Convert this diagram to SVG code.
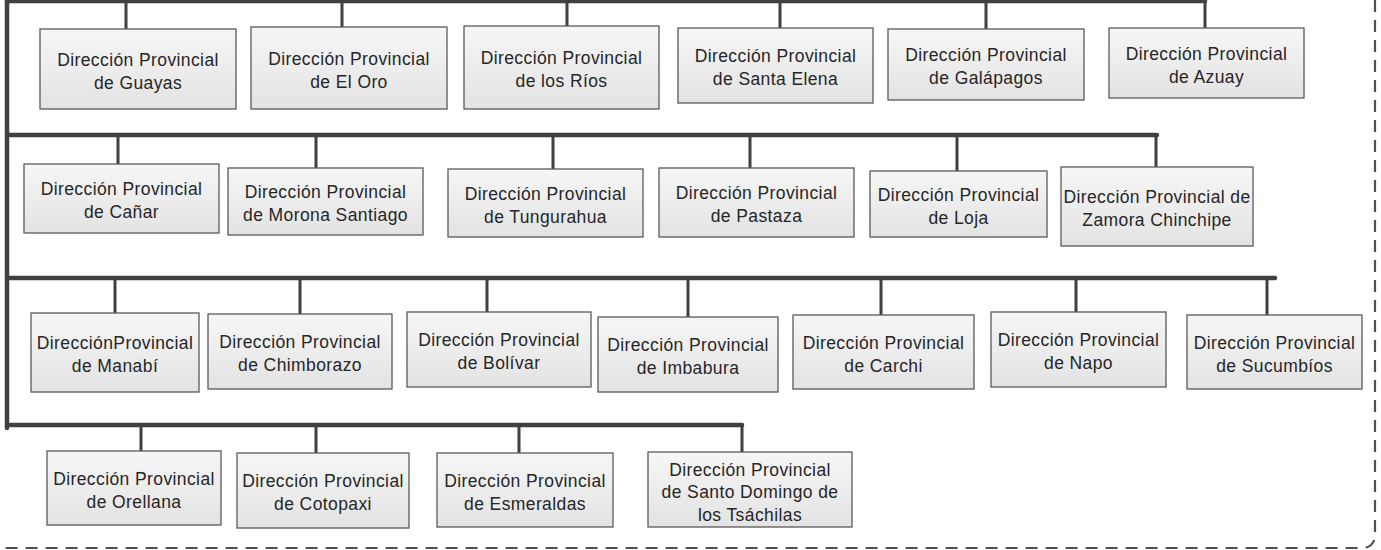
<svg xmlns="http://www.w3.org/2000/svg" width="1381" height="550" viewBox="0 0 1381 550">
<defs>
<linearGradient id="bg" x1="0" y1="0" x2="0" y2="1">
<stop offset="0" stop-color="#f6f6f6"/>
<stop offset="1" stop-color="#e3e3e3"/>
</linearGradient>
</defs>
<style>
.box{fill:url(#bg);stroke:#5a5a5a;stroke-width:1.3}
.t{font-family:"Liberation Sans",Arial,sans-serif;font-size:17.5px;letter-spacing:0.4px;fill:#262626;text-anchor:middle}
.bus{stroke:#404040;stroke-width:4.5;fill:none;stroke-linecap:round}
.stub{stroke:#404040;stroke-width:3;fill:none}
.frame{stroke:#505050;stroke-width:2.2;fill:none;stroke-dasharray:12 8}
</style>
<rect width="1381" height="550" fill="#fff"/>
<path class="frame" d="M1375,0 V534 Q1375,548 1361,548 H0"/>
<g id="connectors">
<path class="bus" d="M7,0 V428"/>
<path class="bus" d="M7,1 H1205"/>
<path class="bus" d="M7,135 H1157"/>
<path class="bus" d="M7,278 H1275"/>
<path class="bus" d="M7,425 H742"/>
<path class="stub" d="M126,0V29 M342,0V27 M567,0V26 M780,0V28 M986,0V29 M1205,0V28"/>
<path class="stub" d="M118,135V164 M316,135V168 M553,135V169 M750,135V168 M957,135V171 M1156,135V167"/>
<path class="stub" d="M115,278V313 M300,278V314 M487,278V312 M688,278V317 M881,278V315 M1076,278V312 M1267,278V315"/>
<path class="stub" d="M141,425V451 M316,425V453 M519,425V453 M742,425V452"/>
</g>
<g id="guayas"><rect class="box" x="40" y="29" width="196" height="80"/><text class="t" x="138" y="65.5">Dirección Provincial<tspan x="138" y="88.5">de Guayas</tspan></text></g>
<g id="eloro"><rect class="box" x="251" y="27" width="196" height="82"/><text class="t" x="349" y="64.5">Dirección Provincial<tspan x="349" y="87.5">de El Oro</tspan></text></g>
<g id="losrios"><rect class="box" x="464" y="26" width="195" height="83"/><text class="t" x="561.5" y="64">Dirección Provincial<tspan x="561.5" y="87">de los Ríos</tspan></text></g>
<g id="santaelena"><rect class="box" x="678" y="28" width="195" height="75"/><text class="t" x="775.5" y="62">Dirección Provincial<tspan x="775.5" y="85">de Santa Elena</tspan></text></g>
<g id="galapagos"><rect class="box" x="888" y="29" width="196" height="71"/><text class="t" x="986" y="61">Dirección Provincial<tspan x="986" y="84">de Galápagos</tspan></text></g>
<g id="azuay"><rect class="box" x="1109" y="28" width="195" height="70"/><text class="t" x="1206.5" y="59.5">Dirección Provincial<tspan x="1206.5" y="82.5">de Azuay</tspan></text></g>
<g id="canar"><rect class="box" x="24" y="164" width="195" height="69"/><text class="t" x="121.5" y="195">Dirección Provincial<tspan x="121.5" y="218">de Cañar</tspan></text></g>
<g id="morona"><rect class="box" x="228" y="168" width="195" height="67"/><text class="t" x="325.5" y="198">Dirección Provincial<tspan x="325.5" y="221">de Morona Santiago</tspan></text></g>
<g id="tungurahua"><rect class="box" x="448" y="169" width="195" height="68"/><text class="t" x="545.5" y="199.5">Dirección Provincial<tspan x="545.5" y="222.5">de Tungurahua</tspan></text></g>
<g id="pastaza"><rect class="box" x="659" y="168" width="195" height="69"/><text class="t" x="756.5" y="199">Dirección Provincial<tspan x="756.5" y="222">de Pastaza</tspan></text></g>
<g id="loja"><rect class="box" x="870" y="171" width="177" height="66"/><text class="t" x="958.5" y="200.5">Dirección Provincial<tspan x="958.5" y="223.5">de Loja</tspan></text></g>
<g id="zamora"><rect class="box" x="1061" y="167" width="192" height="79"/><text class="t" x="1157" y="203">Dirección Provincial de<tspan x="1157" y="226">Zamora Chinchipe</tspan></text></g>
<g id="manabi"><rect class="box" x="31" y="313" width="168" height="79"/><text class="t" x="115" y="349">DirecciónProvincial<tspan x="115" y="372">de Manabí</tspan></text></g>
<g id="chimborazo"><rect class="box" x="208" y="314" width="184" height="75"/><text class="t" x="300" y="348">Dirección Provincial<tspan x="300" y="371">de Chimborazo</tspan></text></g>
<g id="bolivar"><rect class="box" x="407" y="312" width="184" height="75"/><text class="t" x="499" y="346">Dirección Provincial<tspan x="499" y="369">de Bolívar</tspan></text></g>
<g id="imbabura"><rect class="box" x="598" y="317" width="180" height="75"/><text class="t" x="688" y="351">Dirección Provincial<tspan x="688" y="374">de Imbabura</tspan></text></g>
<g id="carchi"><rect class="box" x="793" y="315" width="181" height="74"/><text class="t" x="883.5" y="348.5">Dirección Provincial<tspan x="883.5" y="371.5">de Carchi</tspan></text></g>
<g id="napo"><rect class="box" x="991" y="312" width="175" height="75"/><text class="t" x="1078.5" y="346">Dirección Provincial<tspan x="1078.5" y="369">de Napo</tspan></text></g>
<g id="sucumbios"><rect class="box" x="1187" y="315" width="175" height="74"/><text class="t" x="1274.5" y="348.5">Dirección Provincial<tspan x="1274.5" y="371.5">de Sucumbíos</tspan></text></g>
<g id="orellana"><rect class="box" x="47" y="451" width="174" height="74"/><text class="t" x="134" y="484.5">Dirección Provincial<tspan x="134" y="507.5">de Orellana</tspan></text></g>
<g id="cotopaxi"><rect class="box" x="237" y="453" width="172" height="75"/><text class="t" x="323" y="487">Dirección Provincial<tspan x="323" y="510">de Cotopaxi</tspan></text></g>
<g id="esmeraldas"><rect class="box" x="437" y="453" width="176" height="74"/><text class="t" x="525" y="486.5">Dirección Provincial<tspan x="525" y="509.5">de Esmeraldas</tspan></text></g>
<g id="santodomingo"><rect class="box" x="648" y="452" width="204" height="75"/><text class="t" x="750" y="475.5">Dirección Provincial<tspan x="750" y="498">de Santo Domingo de</tspan><tspan x="750" y="520.5">los Tsáchilas</tspan></text></g>
</svg>
